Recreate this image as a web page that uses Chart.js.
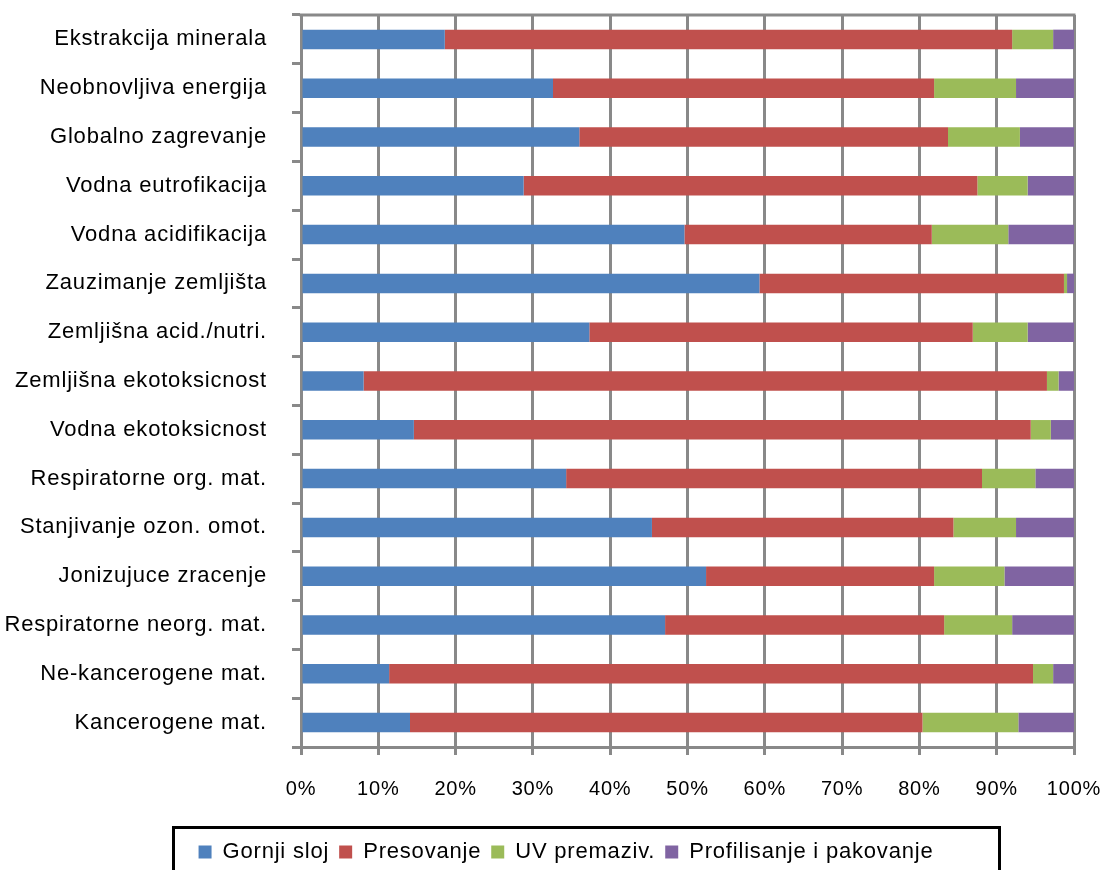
<!DOCTYPE html>
<html>
<head>
<meta charset="utf-8">
<script src="https://cdn.jsdelivr.net/npm/chart.js@4.4.1/dist/chart.umd.min.js"></script>
<style>
  html, body { margin: 0; padding: 0; background: #fff; }
  canvas { display: block; }
</style>
</head>
<body>
<canvas id="chart" width="1105" height="870"></canvas>
<script>
const categories = [
    'Ekstrakcija minerala',
    'Neobnovljiva energija',
    'Globalno zagrevanje',
    'Vodna eutrofikacija',
    'Vodna acidifikacija',
    'Zauzimanje zemljišta',
    'Zemljišna acid./nutri.',
    'Zemljišna ekotoksicnost',
    'Vodna ekotoksicnost',
    'Respiratorne org. mat.',
    'Stanjivanje ozon. omot.',
    'Jonizujuce zracenje',
    'Respiratorne neorg. mat.',
    'Ne-kancerogene mat.',
    'Kancerogene mat.'
];

const gornjiSloj   = [18.6, 32.6, 36.0, 28.8, 49.6, 59.3, 37.3, 8.1, 14.6, 34.3, 45.4, 52.4, 47.1, 11.4, 14.1];
const presovanje   = [73.4, 49.3, 47.7, 58.7, 32.0, 39.4, 49.6, 88.4, 79.8, 53.8, 39.0, 29.5, 36.1, 83.3, 66.3];
const uvPremaziv   = [5.3, 10.6, 9.3, 6.5, 9.9, 0.4, 7.1, 1.5, 2.6, 6.9, 8.1, 9.1, 8.8, 2.6, 12.4];
const profilisanje = [2.7, 7.5, 7.0, 6.0, 8.5, 0.9, 6.0, 2.0, 3.0, 5.0, 7.5, 9.0, 8.0, 2.7, 7.2];

const xTicks = [0, 10, 20, 30, 40, 50, 60, 70, 80, 90, 100];

const gridColor = '#898989';

Chart.defaults.font.family = '"Liberation Sans", Arial, sans-serif';
Chart.defaults.font.size = 22;
Chart.defaults.color = '#000';

// Excel draws its text a bit wider, so spread the letters a little
const letterSpacing = {
    id: 'letterSpacing',
    beforeUpdate(chart) { chart.ctx.letterSpacing = '0.8px'; },
    beforeDraw(chart) { chart.ctx.letterSpacing = '0.8px'; }
};

// legend sits a bit right of the canvas centre in the original
const legendShift = {
    id: 'legendShift',
    afterLayout(chart) {
        chart.legend.left += 29;
        chart.legend.right += 29;
        chart.legend.top += 3;
        chart.legend.bottom += 3;
    }
};

// top edge of the plot and the box round the legend
const frames = {
    id: 'frames',
    afterDraw(chart) {
        const { ctx, chartArea } = chart;
        ctx.save();
        ctx.strokeStyle = gridColor;
        ctx.lineWidth = 3;
        ctx.beginPath();
        ctx.moveTo(chartArea.left - 1.5, chartArea.top);
        ctx.lineTo(chartArea.right + 1.5, chartArea.top);
        ctx.stroke();

        ctx.strokeStyle = '#000';
        ctx.lineWidth = 3;
        ctx.strokeRect(173.5, 827.5, 826, 60);
        ctx.restore();
    }
};

const makeSet = (label, data, color) => ({
    label: label,
    data: data,
    backgroundColor: color,
    borderWidth: 0,
    categoryPercentage: 1,
    barPercentage: 0.4
});

new Chart(document.getElementById('chart').getContext('2d'), {
    type: 'bar',
    data: {
        labels: categories,
        datasets: [
            makeSet('Gornji sloj', gornjiSloj, '#4F81BD'),
            makeSet('Presovanje', presovanje, '#C0504D'),
            makeSet('UV premaziv.', uvPremaziv, '#9BBB59'),
            makeSet('Profilisanje i pakovanje', profilisanje, '#8064A2')
        ]
    },
    options: {
        indexAxis: 'y',
        responsive: false,
        animation: false,
        layout: {
            padding: { top: 15, right: 31, bottom: 0, left: 0 }
        },
        scales: {
            x: {
                stacked: true,
                min: 0,
                max: 100,
                afterBuildTicks: (scale) => {
                    scale.ticks = xTicks.map(v => ({ value: v }));
                },
                afterFit: (scale) => {
                    scale.height = 81;
                    scale.paddingLeft = 0;
                    scale.paddingRight = 0;
                },
                ticks: {
                    padding: 22,
                    font: { size: 20 },
                    callback: (v) => v + '%'
                },
                grid: {
                    color: gridColor,
                    lineWidth: 3,
                    tickLength: 8
                },
                border: { color: gridColor, width: 3 }
            },
            y: {
                stacked: true,
                afterFit: (scale) => {
                    scale.width = 301;
                    scale.paddingTop = 0;
                    scale.paddingBottom = 0;
                },
                ticks: { padding: 25 },
                grid: {
                    drawOnChartArea: false,
                    offset: true,
                    color: gridColor,
                    lineWidth: 3,
                    tickLength: 9
                },
                border: { color: gridColor, width: 3 }
            }
        },
        plugins: {
            tooltip: { enabled: false },
            legend: {
                position: 'bottom',
                labels: {
                    boxWidth: 13,
                    boxHeight: 13,
                    padding: 10,
                    font: { size: 22 }
                }
            }
        }
    },
    plugins: [letterSpacing, legendShift, frames]
});
</script>
</body>
</html>
